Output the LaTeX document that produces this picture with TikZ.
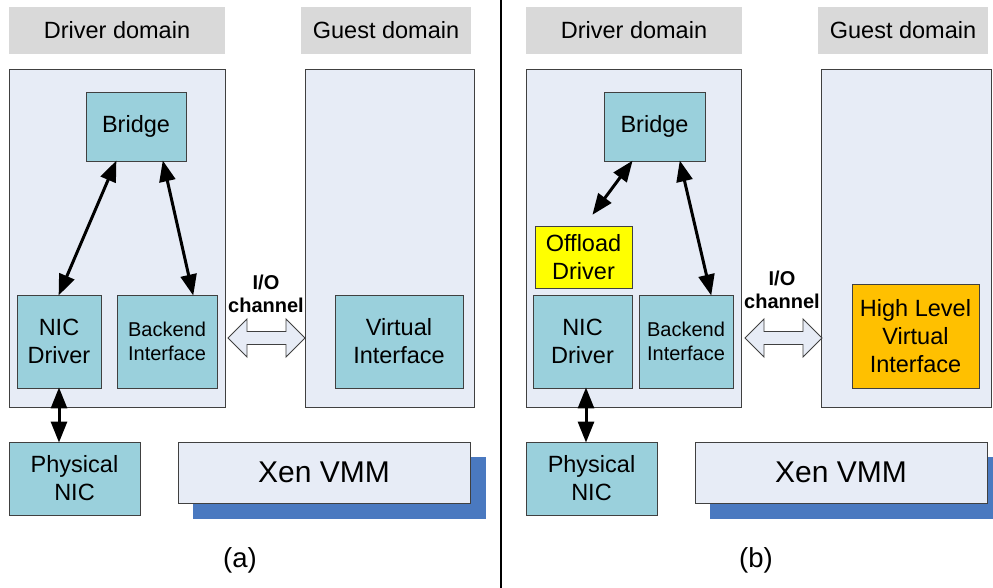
\documentclass[tikz,border=0pt]{standalone}
\usepackage{fontspec}
\setmainfont{Liberation Sans}
\usetikzlibrary{arrows.meta}
\definecolor{domfill}{HTML}{E7ECF6}
\definecolor{tealfill}{HTML}{9AD0DC}
\definecolor{lblgray}{HTML}{D9D9D9}
\definecolor{shadowblue}{HTML}{4A79C0}
\definecolor{edge}{HTML}{404040}
\definecolor{offy}{HTML}{FFFF00}
\definecolor{hlvo}{HTML}{FFC000}
\tikzset{
  box/.style={draw=edge, line width=0.9pt, inner sep=0pt, align=center, font=\fontsize{23.5}{28}\selectfont},
  lbl/.style={fill=lblgray, inner sep=0pt, font=\fontsize{23.5}{28}\selectfont},
  dom/.style={box, fill=domfill},
  comp/.style={box, fill=tealfill},
  shadowbox/.style={fill=shadowblue, inner sep=0pt},
  biarr/.style={line width=3pt, {Triangle[length=21pt,width=16pt]}-{Triangle[length=21pt,width=16pt]}, shorten <=-1pt, shorten >=-1pt},
  ioarrow/.style={draw=edge, line width=0.9pt, fill=domfill},
  iotext/.style={font=\bfseries\fontsize{20}{23}\selectfont, align=center, inner sep=0pt},
  captext/.style={font=\fontsize{27.5}{30}\selectfont, inner sep=0pt}
}
\newcommand{\ioarr}[3]{% left x, right x, center y
  \draw[ioarrow] (#1,#3) -- ({#1+19},{#3-19}) -- ({#1+19},{#3-6.5}) -- ({#2-19},{#3-6.5}) -- ({#2-19},{#3-19}) -- (#2,#3)
    -- ({#2-19},{#3+19}) -- ({#2-19},{#3+6.5}) -- ({#1+19},{#3+6.5}) -- ({#1+19},{#3+19}) -- cycle;}
\begin{document}
\begin{tikzpicture}[x=1pt,y=-1pt]
\useasboundingbox (0,0) rectangle (993,588);
\begin{scope}
\clip (0,0) rectangle (993,588);
% ---------------- panel (a)
\node[lbl, minimum width=216pt, minimum height=47pt] (lblDrvA) at (117,30.5) {Driver domain};
\node[lbl, minimum width=170pt, minimum height=47pt] (lblGstA) at (386,30.5) {Guest domain};
\node[dom, minimum width=216pt, minimum height=338pt] (domDrvA) at (117,238) {};
\node[dom, minimum width=169pt, minimum height=338pt] (domGstA) at (389.5,238) {};
\node[comp, minimum width=100pt, minimum height=69pt] (bridgeA) at (136,126.5) {Bridge};
\node[comp, minimum width=84pt, minimum height=93pt] (nicA) at (59,341.5) {NIC\\Driver};
\node[comp, minimum width=100pt, minimum height=93pt, font=\fontsize{20}{23.5}\selectfont] (backA) at (167,341.5) {Backend\\Interface};
\node[comp, minimum width=128pt, minimum height=93pt] (virtA) at (399,341.5) {Virtual\\Interface};
\node[comp, minimum width=131pt, minimum height=73pt] (physA) at (74.5,478.5) {Physical\\NIC};
\node[shadowbox, minimum width=293pt, minimum height=62pt] (shadowA) at (339.5,488) {};
\node[box, fill=domfill, minimum width=292pt, minimum height=61pt, font=\fontsize{30}{34}\selectfont] (xenA) at (324,472.5) {Xen VMM};
\node[captext] (capA) at (240,560) {(a)};
\node[iotext] (ioA) at (266,294) {I/O\\channel};
\ioarr{228}{305}{338}
\draw[biarr] ([xshift=-20pt]bridgeA.south) -- (nicA.north);
\draw[biarr] ([xshift=27pt]bridgeA.south) -- ([xshift=26pt]backA.north);
\draw[biarr] (nicA.south) -- (nicA.south |- physA.north);
% ---------------- divider
\coordinate (divTop) at (501,0);
\coordinate (divBot) at (501,588);
\draw[line width=2pt] (divTop) -- (divBot);
% ---------------- panel (b)
\node[lbl, minimum width=216pt, minimum height=47pt] (lblDrvB) at (634,30.5) {Driver domain};
\node[lbl, minimum width=170pt, minimum height=47pt] (lblGstB) at (903,30.5) {Guest domain};
\node[dom, minimum width=215pt, minimum height=338pt] (domDrvB) at (633.5,238) {};
\node[dom, minimum width=170pt, minimum height=338pt] (domGstB) at (906,238) {};
\node[comp, minimum width=101pt, minimum height=69pt] (bridgeB) at (654.5,126.5) {Bridge};
\node[box, fill=offy, minimum width=97pt, minimum height=62pt] (offB) at (583.5,257) {Offload\\Driver};
\node[comp, minimum width=99pt, minimum height=93pt] (nicB) at (582.5,341.5) {NIC\\Driver};
\node[comp, minimum width=94pt, minimum height=93pt, font=\fontsize{20}{23.5}\selectfont] (backB) at (686,341.5) {Backend\\Interface};
\node[box, fill=hlvo, minimum width=127pt, minimum height=104pt] (hlvB) at (915.5,336) {High Level\\Virtual\\Interface};
\node[comp, minimum width=131pt, minimum height=73pt] (physB) at (591.5,478.5) {Physical\\NIC};
\node[shadowbox, minimum width=293pt, minimum height=62pt] (shadowB) at (856.5,488) {};
\node[box, fill=domfill, minimum width=292pt, minimum height=61pt, font=\fontsize{30}{34}\selectfont] (xenB) at (841,472.5) {Xen VMM};
\node[captext] (capB) at (756,560) {(b)};
\node[iotext] (ioB) at (782,290) {I/O\\channel};
\ioarr{745}{822}{338}
\coordinate (offEnd) at (593,214);
\draw[biarr] ([xshift=-22.5pt]bridgeB.south) -- (offEnd);
\draw[biarr] ([xshift=25.5pt]bridgeB.south) -- ([xshift=25pt]backB.north);
\draw[biarr] ([xshift=3.5pt]nicB.south) -- ([xshift=3.5pt]nicB.south |- physB.north);
\end{scope}
\end{tikzpicture}
\end{document}
